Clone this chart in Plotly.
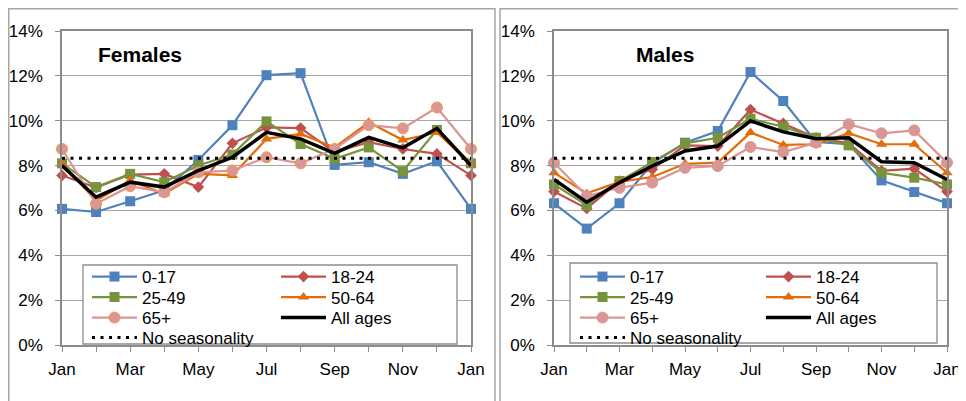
import plotly.graph_objects as go
from plotly.subplots import make_subplots

# --- data (percent of yearly total per month) ---
months = ["Jan", "Feb", "Mar", "Apr", "May", "Jun", "Jul", "Aug", "Sep", "Oct", "Nov", "Dec", "Jan"]
groups = ["0-17", "18-24", "25-49", "50-64", "65+", "All ages", "No seasonality"]

females_0_17 = [6.07, 5.93, 6.41, 6.90, 8.25, 9.80, 12.03, 12.12, 8.03, 8.15, 7.63, 8.19, 6.07]
females_18_24 = [7.56, 7.02, 7.60, 7.63, 7.04, 8.99, 9.70, 9.67, 8.60, 9.04, 8.74, 8.52, 7.56]
females_25_49 = [8.10, 7.04, 7.63, 7.26, 8.00, 8.49, 9.97, 8.96, 8.30, 8.81, 7.75, 9.59, 8.10]
females_50_64 = [8.07, 6.44, 7.33, 6.74, 7.63, 7.56, 9.19, 9.41, 8.81, 9.93, 9.14, 9.48, 8.07]
females_65 = [8.74, 6.30, 7.08, 6.81, 7.70, 7.78, 8.37, 8.10, 8.74, 9.80, 9.66, 10.59, 8.74]
females_all = [8.00, 6.59, 7.26, 7.04, 7.78, 8.37, 9.48, 9.19, 8.55, 9.26, 8.79, 9.66, 8.00]

males_0_17 = [6.32, 5.19, 6.32, 8.10, 9.02, 9.54, 12.17, 10.88, 9.05, 8.95, 7.34, 6.82, 6.32]
males_18_24 = [6.84, 6.09, 7.31, 7.83, 8.90, 8.87, 10.50, 9.88, 9.24, 8.99, 7.76, 7.86, 6.84]
males_25_49 = [7.16, 6.23, 7.31, 8.16, 8.99, 9.24, 10.09, 9.73, 9.24, 8.90, 7.68, 7.46, 7.16]
males_50_64 = [7.68, 6.76, 7.27, 7.49, 8.08, 8.13, 9.47, 8.92, 8.95, 9.44, 8.95, 8.95, 7.68]
males_65 = [8.13, 6.64, 7.01, 7.24, 7.90, 7.98, 8.83, 8.60, 9.02, 9.84, 9.44, 9.57, 8.13]
males_all = [7.38, 6.37, 7.24, 7.98, 8.65, 8.87, 9.99, 9.50, 9.20, 9.24, 8.17, 8.13, 7.38]

no_seasonality = [8.33, 8.33, 8.33, 8.33, 8.33, 8.33, 8.33, 8.33, 8.33, 8.33, 8.33, 8.33, 8.33]

x_idx = list(range(len(months)))

FONT = "Liberation Sans, Arial, sans-serif"
GRAY = "#8c8c8c"

# the page body has an 8px margin, so the figure is drawn 8px in from the corner.
# page pixel -> paper coords (plot area on the page: x 62..947, y 31..345)
def px(x):
    return (x - 62) / 885.0

def py(y):
    return (345 - y) / 314.0


fig = make_subplots(rows=1, cols=2)

styles = [
    dict(color="#4F81BD", symbol="square", size=10, width=2.2),
    dict(color="#C0504D", symbol="diamond", size=9, width=2.2),
    dict(color="#77933C", symbol="square", size=10, width=2.2),
    dict(color="#E46C0A", symbol="triangle-up", size=10, width=2.2),
    dict(color="#D99694", symbol="circle", size=11, width=2.2),
]

panels = [
    ([females_0_17, females_18_24, females_25_49, females_50_64, females_65, females_all], 1, 0, "#F79646"),
    ([males_0_17, males_18_24, males_25_49, males_50_64, males_65, males_all], 2, 4, "#D99694"),
]

for series, col, leg0, ring in panels:
    # rows of the two-column legend
    rows = [1, 1, 2, 2, 3, 3]
    for i, vals in enumerate(series):
        leg = "legend" if leg0 + rows[i] == 1 else "legend%d" % (leg0 + rows[i])
        if i < 5:
            st = styles[i]
            mline = dict(width=1, color=ring) if i == 4 else dict(width=0)
            fig.add_trace(go.Scatter(
                x=x_idx, y=vals, name=groups[i], mode="lines+markers",
                line=dict(color=st["color"], width=st["width"]),
                marker=dict(symbol=st["symbol"], size=st["size"], color=st["color"], line=mline),
                cliponaxis=False, legend=leg), row=1, col=col)
        else:
            fig.add_trace(go.Scatter(
                x=x_idx, y=vals, name=groups[i], mode="lines",
                line=dict(color="black", width=3.5),
                cliponaxis=False, legend=leg), row=1, col=col)
    leg = "legend%d" % (leg0 + 4)
    fig.add_trace(go.Scatter(
        x=x_idx, y=no_seasonality, name=groups[6], mode="lines",
        line=dict(color="black", width=3, dash="3px,5.5px"),
        cliponaxis=False, legend=leg), row=1, col=col)

fig.update_xaxes(
    range=[0, len(months) - 1], tickmode="array", tickvals=x_idx[::2], ticktext=months[::2],
    ticks="outside", ticklen=5, tickcolor=GRAY, tickwidth=1,
    minor=dict(tickmode="linear", tick0=0, dtick=1, ticks="outside", ticklen=5, tickcolor=GRAY),
    showgrid=False, zeroline=False, showline=True, linecolor=GRAY, linewidth=1.5, mirror=True,
    tickfont=dict(size=17, color="black", family=FONT), ticklabelstandoff=3, automargin=False,
)
fig.update_yaxes(
    range=[0, 14], dtick=2, ticksuffix="%", ticks="outside", ticklen=5, tickcolor=GRAY,
    showgrid=True, gridcolor="#a6a6a6", gridwidth=1.3, zeroline=False,
    showline=True, linecolor=GRAY, linewidth=1.5, mirror=True,
    tickfont=dict(size=17, color="black", family=FONT), ticklabelstandoff=9, automargin=False,
)
fig.update_xaxes(domain=[0, px(471)], row=1, col=1)
fig.update_xaxes(domain=[px(554), 1], row=1, col=2)

# two-column legends, one horizontal legend per row
row_y = [277, 297.5, 318, 338]
legends = {}
for p, (x0, ew) in enumerate([(87, 129), (575, 126)]):
    for r in range(4):
        n = p * 4 + r + 1
        key = "legend" if n == 1 else "legend%d" % n
        legends[key] = dict(
            x=px(x0), y=py(row_y[r]), xanchor="left", yanchor="middle",
            orientation="h", entrywidth=ew, entrywidthmode="pixels", itemwidth=45,
            bgcolor="rgba(0,0,0,0)", borderwidth=0,
            font=dict(size=17, color="black", family=FONT),
        )

shapes = [
    # outer frames
    dict(type="rect", xref="paper", yref="paper", x0=px(8.75), x1=px(495), y0=py(420), y1=py(8.75),
         line=dict(color="#a6a6a6", width=1.5), layer="above"),
    dict(type="rect", xref="paper", yref="paper", x0=px(500), x1=px(990), y0=py(420), y1=py(8.75),
         line=dict(color="#a6a6a6", width=1.5), layer="above"),
    # legend boxes
    dict(type="rect", xref="paper", yref="paper", x0=px(83), x1=px(457), y0=py(344), y1=py(265),
         line=dict(color=GRAY, width=1.3), fillcolor="white", layer="above"),
    dict(type="rect", xref="paper", yref="paper", x0=px(570), x1=px(937), y0=py(343), y1=py(263),
         line=dict(color=GRAY, width=1.3), fillcolor="white", layer="above"),
]

annotations = [
    dict(text="<b>Females</b>", x=px(139.5), y=py(55), xref="paper", yref="paper",
         xanchor="center", yanchor="middle",
         showarrow=False, font=dict(size=21, color="black", family=FONT)),
    dict(text="<b>Males</b>", x=px(665), y=py(55), xref="paper", yref="paper",
         xanchor="center", yanchor="middle",
         showarrow=False, font=dict(size=21, color="black", family=FONT)),
]

fig.update_layout(
    width=958, height=393,
    margin=dict(l=54, r=19, t=23, b=56),
    paper_bgcolor="white", plot_bgcolor="white",
    font=dict(family=FONT, color="black"),
    showlegend=True,
    shapes=shapes, annotations=annotations,
    **legends,
)

fig.write_html("out.html")
